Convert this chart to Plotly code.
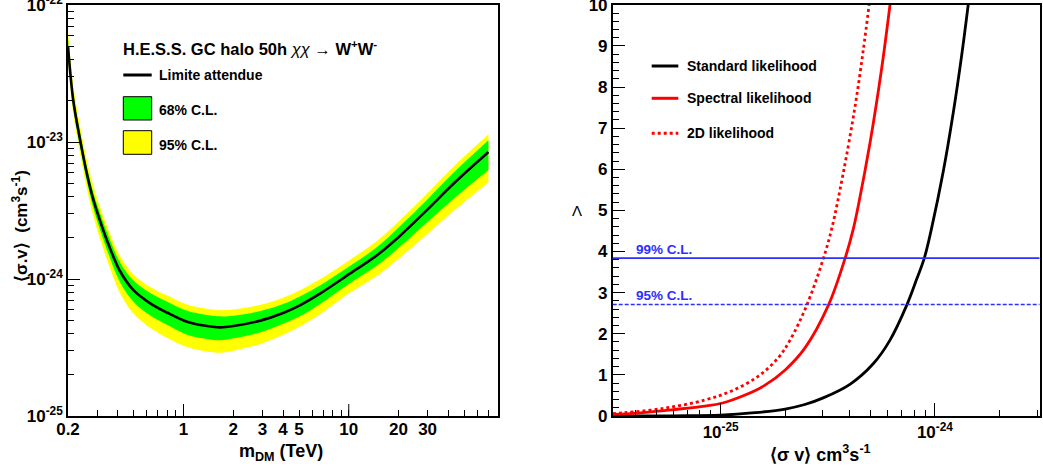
import plotly.graph_objects as go

W, H = 1043, 470

# ---- Expected limit on <sigma v> versus dark-matter mass (chi chi -> W+W-) ----
mass_tev = [0.200, 0.215, 0.237, 0.260, 0.285, 0.313, 0.351, 0.413, 0.498, 0.629,
            0.793, 1.05, 1.39, 1.67, 2.01, 2.92, 4.04, 5.09, 6.73, 10.2,
            14.9, 20.6, 29.8, 43.3, 70.0]
sv_median = [5.0e-23, 2.03e-23, 1.03e-23, 5.9e-24, 3.78e-24, 2.65e-24, 1.80e-24, 1.14e-24, 8.3e-25, 6.65e-25,
             5.7e-25, 4.88e-25, 4.54e-25, 4.44e-25, 4.54e-25, 4.97e-25, 5.68e-25, 6.46e-25, 7.86e-25, 1.10e-24,
             1.50e-24, 2.09e-24, 3.20e-24, 5.0e-24, 8.45e-24]
sv_hi68 = [5.74e-23, 2.30e-23, 1.16e-23, 6.62e-24, 4.24e-24, 3.01e-24, 2.07e-24, 1.32e-24, 9.75e-25, 7.91e-25,
           6.85e-25, 5.87e-25, 5.46e-25, 5.34e-25, 5.40e-25, 5.84e-25, 6.59e-25, 7.50e-25, 9.02e-25, 1.25e-24,
           1.72e-24, 2.46e-24, 3.80e-24, 6.01e-24, 1.03e-23]
sv_lo68 = [4.46e-23, 1.81e-23, 9.18e-24, 5.20e-24, 3.29e-24, 2.28e-24, 1.53e-24, 9.48e-25, 6.82e-25, 5.41e-25,
           4.63e-25, 3.92e-25, 3.65e-25, 3.57e-25, 3.69e-25, 4.09e-25, 4.73e-25, 5.37e-25, 6.61e-25, 9.36e-25,
           1.26e-24, 1.74e-24, 2.60e-24, 3.88e-24, 6.26e-24]
sv_hi95 = [6.59e-23, 2.61e-23, 1.30e-23, 7.43e-24, 4.76e-24, 3.34e-24, 2.29e-24, 1.47e-24, 1.08e-24, 8.76e-25,
           7.60e-25, 6.51e-25, 6.06e-25, 5.92e-25, 5.98e-25, 6.48e-25, 7.32e-25, 8.32e-25, 1.00e-24, 1.385e-24,
           1.91e-24, 2.72e-24, 4.22e-24, 6.67e-24, 1.14e-23]
sv_lo95 = [3.97e-23, 1.61e-23, 8.18e-24, 4.58e-24, 2.87e-24, 1.96e-24, 1.30e-24, 7.89e-25, 5.61e-25, 4.40e-25,
           3.72e-25, 3.19e-25, 2.96e-25, 2.90e-25, 3.00e-25, 3.36e-25, 3.93e-25, 4.52e-25, 5.56e-25, 7.96e-25,
           1.06e-24, 1.45e-24, 2.12e-24, 3.16e-24, 5.10e-24]

# ---- Test statistic Lambda versus <sigma v> for three likelihood methods ----
sv_standard = [3.13e-26, 6.0e-26, 1.0e-25, 1.445e-25, 2.0e-25, 2.47e-25, 3.01e-25, 4.01e-25, 5.15e-25,
               6.16e-25, 7.38e-25, 8.22e-25, 8.92e-25, 9.66e-25, 1.094e-24, 1.218e-24, 1.332e-24, 1.43e-24]
lam_standard = [0.0, 0.005, 0.02, 0.08, 0.17, 0.28, 0.44, 0.77, 1.27,
                1.84, 2.69, 3.33, 3.84, 4.58, 5.95, 7.38, 8.76, 10.0]

sv_spectral = [3.13e-26, 4.12e-26, 5.90e-26, 8.45e-26, 1.01e-25, 1.30e-25, 1.61e-25, 2.0e-25,
               2.47e-25, 3.18e-25, 3.80e-25, 4.16e-25, 4.39e-25, 4.98e-25, 5.64e-25, 6.17e-25]
lam_spectral = [0.04, 0.07, 0.15, 0.24, 0.31, 0.51, 0.75, 1.12,
                1.65, 2.69, 3.82, 4.55, 5.12, 6.65, 8.45, 10.0]

sv_2d = [3.13e-26, 3.57e-26, 5.49e-26, 8.45e-26, 1.125e-25, 1.50e-25, 1.86e-25, 2.11e-25,
         2.52e-25, 3.01e-25, 3.30e-25, 3.73e-25, 4.23e-25, 4.63e-25, 4.93e-25]
lam_2d = [0.06, 0.08, 0.19, 0.39, 0.61, 0.97, 1.42, 1.85,
          2.69, 3.82, 4.56, 5.90, 7.50, 8.90, 10.0]

cl_levels = [2.71, 3.84]
cl_labels = ["95% C.L.", "99% C.L."]
cl_dash = ["4px,2px", "solid"]

# ---- Tick labels ----
mass_tick_vals = [0.2, 1, 2, 3, 4, 5, 10, 20, 30]
mass_tick_text = ["0.2", "1", "2", "3", "4", "5", "10", "20", "30"]
mass_minor_vals = [0.3, 0.4, 0.5, 0.6, 0.7, 0.8, 0.9, 6, 7, 8, 9, 40, 50, 60, 70, 80]
mass_long_ticks = [1, 10]

limit_tick_vals = [1e-25, 1e-24, 1e-23, 1e-22]
limit_tick_text = ["10<sup>-25</sup>", "10<sup>-24</sup>", "10<sup>-23</sup>", "10<sup>-22</sup>"]
limit_minor_vals = [k * 10.0 ** e for e in (-25, -24, -23) for k in range(2, 10)]

sv_tick_vals = [1e-25, 1e-24]
sv_tick_text = ["10<sup>-25</sup>", "10<sup>-24</sup>"]
sv_minor_vals = [4e-26, 5e-26, 6e-26, 7e-26, 8e-26, 9e-26,
                 2e-25, 3e-25, 4e-25, 5e-25, 6e-25, 7e-25, 8e-25, 9e-25,
                 2e-24, 3e-24]

FONT = "Liberation Sans"
YELLOW = "#ffff00"
GREEN = "#00ff00"
BLUE = "#2e2eff"


def px(x):
    return x / W


def py(y):
    return 1 - y / H


fig = go.Figure()

band_line = dict(width=0, shape="spline", smoothing=1.0)

# Left panel: bands then median
fig.add_trace(go.Scatter(x=mass_tev, y=sv_hi95, mode="lines", line=band_line,
                         hoverinfo="skip", showlegend=False, xaxis="x", yaxis="y"))
fig.add_trace(go.Scatter(x=mass_tev, y=sv_lo95, mode="lines", line=band_line,
                         fill="tonexty", fillcolor=YELLOW, hoverinfo="skip", showlegend=False,
                         xaxis="x", yaxis="y"))
fig.add_trace(go.Scatter(x=mass_tev, y=sv_hi68, mode="lines", line=band_line,
                         hoverinfo="skip", showlegend=False, xaxis="x", yaxis="y"))
fig.add_trace(go.Scatter(x=mass_tev, y=sv_lo68, mode="lines", line=band_line,
                         fill="tonexty", fillcolor=GREEN, hoverinfo="skip", showlegend=False,
                         xaxis="x", yaxis="y"))
fig.add_trace(go.Scatter(x=mass_tev, y=sv_median, mode="lines",
                         line=dict(color="black", width=2.6, shape="spline", smoothing=1.0),
                         showlegend=False, xaxis="x", yaxis="y"))

# Right panel: likelihood profiles
fig.add_trace(go.Scatter(x=sv_standard, y=lam_standard, mode="lines",
                         line=dict(color="black", width=2.8, shape="spline", smoothing=1.0),
                         showlegend=False, xaxis="x2", yaxis="y2"))
fig.add_trace(go.Scatter(x=sv_spectral, y=lam_spectral, mode="lines",
                         line=dict(color="#ff0000", width=2.8, shape="spline", smoothing=1.0),
                         showlegend=False, xaxis="x2", yaxis="y2"))
fig.add_trace(go.Scatter(x=sv_2d, y=lam_2d, mode="lines",
                         line=dict(color="#ff0000", width=2.8, dash="dot", shape="spline", smoothing=1.0),
                         showlegend=False, xaxis="x2", yaxis="y2"))

Y_DOMAIN = [1 - 416 / H, 1 - 4.7 / H]
tickfont = dict(family=FONT, size=17, color="black", weight="bold")
axis_common = dict(showline=True, linecolor="black", linewidth=1.5, mirror=True,
                   showgrid=False, zeroline=False, ticks="inside", tickcolor="black",
                   tickwidth=1, tickfont=tickfont, automargin=False, ticklabeloverflow="allow")

fig.update_layout(
    width=W, height=H,
    margin=dict(l=0, r=0, t=0, b=0),
    paper_bgcolor="white", plot_bgcolor="white",
    xaxis=dict(domain=[px(68), px(498)], type="log", range=[-0.699, 1.903],
               tickmode="array", tickvals=mass_tick_vals, ticktext=mass_tick_text, ticklen=6,
               ticklabelstandoff=-3,
               minor=dict(tickmode="array", tickvals=mass_minor_vals, ticks="inside", ticklen=6,
                          tickcolor="black", tickwidth=1, showgrid=False),
               anchor="y", **axis_common),
    yaxis=dict(domain=Y_DOMAIN, type="log", range=[-25, -21.997],
               tickmode="array", tickvals=limit_tick_vals, ticktext=limit_tick_text, ticklen=12,
               minor=dict(tickmode="array", tickvals=limit_minor_vals, ticks="inside", ticklen=6,
                          tickcolor="black", tickwidth=1, showgrid=False),
               anchor="x", **axis_common),
    xaxis2=dict(domain=[px(612.7), px(1039.5)], type="log", range=[-25.504, -23.512],
                tickmode="array", tickvals=sv_tick_vals, ticktext=sv_tick_text, ticklen=13,
                minor=dict(tickmode="array", tickvals=sv_minor_vals, ticks="inside", ticklen=6,
                           tickcolor="black", tickwidth=1, showgrid=False),
                anchor="y2", **axis_common),
    yaxis2=dict(domain=Y_DOMAIN, range=[0, 10.002], tickmode="linear", tick0=0, dtick=1, ticklen=13,
                minor=dict(dtick=0.2, ticks="inside", ticklen=7, tickcolor="black", tickwidth=1,
                           showgrid=False),
                anchor="x2", **axis_common),
)

shapes = []
# long ticks at the decades of the mass axis
for v in mass_long_ticks:
    shapes.append(dict(type="line", xref="x", yref="y domain", x0=v, x1=v, y0=0, y1=12 / 411.3,
                       line=dict(color="black", width=1)))
# confidence-level thresholds
for lvl, dash in zip(cl_levels, cl_dash):
    shapes.append(dict(type="line", xref="x2 domain", yref="y2", x0=0, x1=1, y0=lvl, y1=lvl,
                       line=dict(color=BLUE, width=1.6, dash=dash)))
# left legend
shapes.append(dict(type="line", xref="paper", yref="paper", x0=px(123.3), x1=px(151.7),
                   y0=py(75), y1=py(75), line=dict(color="black", width=3)))
shapes.append(dict(type="rect", xref="paper", yref="paper", x0=px(123.3), x1=px(151.7),
                   y0=py(120), y1=py(96.7), fillcolor=GREEN, line=dict(color="black", width=1)))
shapes.append(dict(type="rect", xref="paper", yref="paper", x0=px(123.3), x1=px(151.7),
                   y0=py(154.3), y1=py(130.7), fillcolor=YELLOW, line=dict(color="black", width=1)))
# right legend
for yy, col, dash in [(66, "black", "solid"), (98.3, "#ff0000", "solid"), (133.3, "#ff0000", "dot")]:
    shapes.append(dict(type="line", xref="paper", yref="paper", x0=px(651.7), x1=px(678.3),
                       y0=py(yy), y1=py(yy), line=dict(color=col, width=3, dash=dash)))
fig.update_layout(shapes=shapes)

ann = []


def text(x, y, s, size, bold=True, xanchor="left", angle=0, color="black"):
    ann.append(dict(xref="paper", yref="paper", x=px(x), y=py(y), text=s, showarrow=False,
                    xanchor=xanchor, yanchor="middle", textangle=angle,
                    font=dict(family=FONT, size=size, color=color,
                              weight="bold" if bold else "normal")))


text(120.7, 47.7, "H.E.S.S. GC halo 50h <span style='font-weight:normal'><i>χχ</i> →</span> "
     "W<sup>+</sup>W<sup>-</sup>", 16.5)
text(156.7, 75, "Limite attendue", 14)
text(156.7, 110, "68% C.L.", 14)
text(156.7, 145, "95% C.L.", 14)

text(685, 66, "Standard likelihood", 14)
text(685, 98.3, "Spectral likelihood", 14)
text(685, 133.3, "2D likelihood", 14)

text(634, 249, cl_labels[1], 13.5, color=BLUE)
text(634, 295.7, cl_labels[0], 13.5, color=BLUE)

# axis titles
text(281, 452, "m<sub>DM</sub> (TeV)", 18, xanchor="center")
text(20, 226, "⟨σ.v⟩  (cm<sup>3</sup>s<sup>-1</sup>)", 17, xanchor="center", angle=-90)
text(820, 453, "⟨σ v⟩ cm<sup>3</sup>s<sup>-1</sup>", 18, xanchor="center")
text(576.5, 211, "Λ", 15, bold=False, xanchor="center")

fig.update_layout(annotations=ann)

fig.write_html("out.html")
